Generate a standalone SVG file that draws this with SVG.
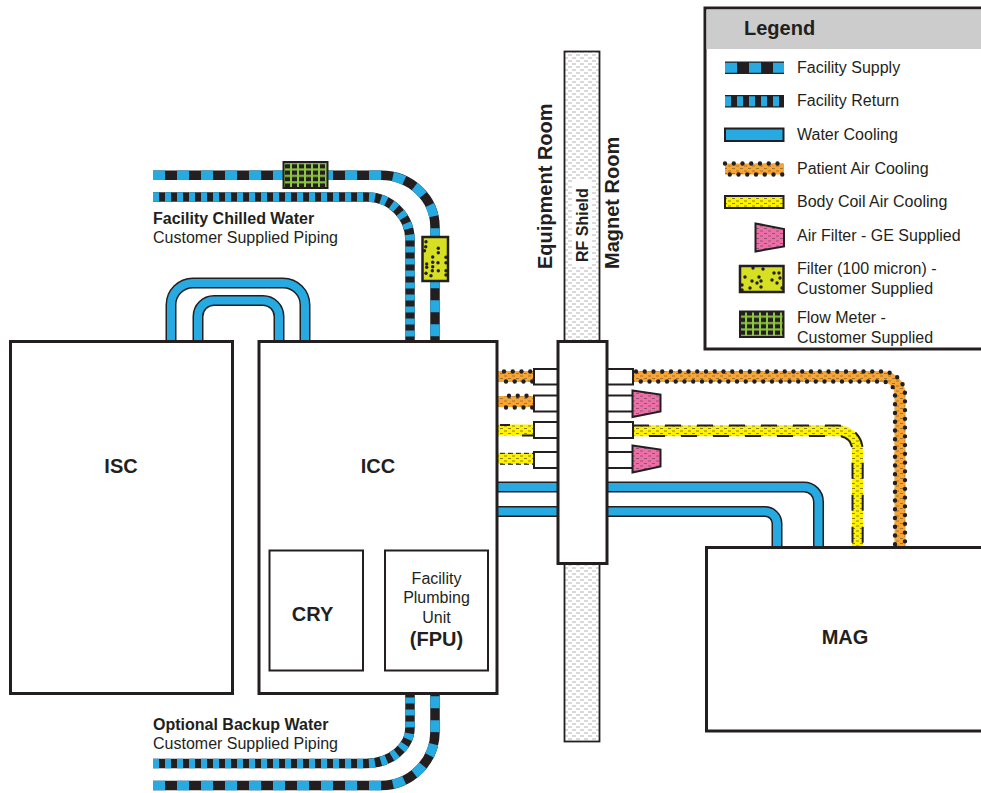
<svg xmlns="http://www.w3.org/2000/svg" width="981" height="793" viewBox="0 0 981 793">
<style>
text{font-family:"Liberation Sans",Arial,sans-serif;fill:#231f20;font-size:16px}
.b{font-weight:bold}
.big{font-weight:bold;font-size:20px;text-anchor:middle}
.mid{text-anchor:middle}
.box{fill:#fff;stroke:#231f20;stroke-width:3}
.thin{fill:#fff;stroke:#231f20;stroke-width:2}
.n{fill:none}
.base{fill:none;stroke:#231f20;stroke-width:9.5}
.sup{fill:none;stroke:#27aae1;stroke-width:9.5;stroke-dasharray:12 12}
.ret{fill:none;stroke:#27aae1;stroke-width:9.5;stroke-dasharray:6 6}
.wb{fill:none;stroke:#231f20;stroke-width:11}
.wf{fill:none;stroke:#27aae1;stroke-width:8}
.or{fill:none;stroke:url(#po);stroke-width:11}
.ye{fill:none;stroke:url(#py);stroke-width:11}
.dot{fill:none;stroke:#231f20;stroke-width:4.400;stroke-linecap:round;stroke-dasharray:0 8.75}
.dsh{fill:none;stroke:#231f20;stroke-width:2;stroke-dasharray:16 16}
.pink{fill:url(#pp);stroke:#231f20;stroke-width:2}
.filt{fill:#d7df23;stroke:#231f20;stroke-width:2.5}
.fm{fill:url(#pf);stroke:#231f20;stroke-width:2}
.sp circle{fill:#231f20}
</style>
<defs>
<pattern id="po" width="8" height="5" patternUnits="userSpaceOnUse"><rect width="8" height="5" fill="#f9a533"/><path d="M0 1H3M4 3.500H7" stroke="#8a6a35" stroke-width="0.800"/></pattern>
<pattern id="py" width="8" height="5" patternUnits="userSpaceOnUse"><rect width="8" height="5" fill="#fff200"/><path d="M0 1H3M4 3.500H7" stroke="#6a6620" stroke-width="0.800"/></pattern>
<pattern id="pp" width="8" height="5" patternUnits="userSpaceOnUse"><rect width="8" height="5" fill="#ee6fa8"/><path d="M0 1H3M4 3.500H7" stroke="#7a4a65" stroke-width="0.800"/></pattern>
<pattern id="ps" width="8" height="6" patternUnits="userSpaceOnUse"><rect width="8" height="6" fill="#fff"/><path d="M0 1H4M4 4H8" stroke="#a0a0a0" stroke-width="0.800"/></pattern>
<pattern id="pf" width="7" height="6.400" x="1" y="0" patternUnits="userSpaceOnUse"><rect width="7" height="6.400" fill="#231f20"/><path d="M3 0V6.400M0 3H7" stroke="#8dc63f" stroke-width="2"/></pattern>
</defs>

<g id="connectors">
<path class="base" d="M153 175.300H381A54 52 0 0 1 435 227V341"/>
<path class="sup" d="M153 175.300H381A54 52 0 0 1 435 227V341"/>
<path class="base" d="M153 197H367A43 43 0 0 1 410 240V341"/>
<path class="ret" d="M153 197H367A43 43 0 0 1 410 240V341"/>
<path class="base" d="M153 785.500H381A54 54 0 0 0 435 731.500V693"/>
<path class="sup" d="M153 785.500H381A54 54 0 0 0 435 731.500V693"/>
<path class="base" d="M153 763.500H366A44 36 0 0 0 410 727V693"/>
<path class="ret" d="M153 763.500H366A44 36 0 0 0 410 727V693"/>
<path class="wb" d="M171 341V305A22 22 0 0 1 193 283H283A22 22 0 0 1 305 305V341"/>
<path class="wf" d="M171 341V305A22 22 0 0 1 193 283H283A22 22 0 0 1 305 305V341"/>
<path class="wb" d="M198 341V316.500A16 16 0 0 1 214 300.500H263A16 16 0 0 1 279 316.500V341"/>
<path class="wf" d="M198 341V316.500A16 16 0 0 1 214 300.500H263A16 16 0 0 1 279 316.500V341"/>
<path class="wb" d="M363 604H385M363 621.500H385"/>
<path class="wf" d="M363 604H385M363 621.500H385"/>
<path class="wb" d="M497 487H804A14.500 14.500 0 0 1 818.500 501.500V547"/>
<path class="wf" d="M497 487H804A14.500 14.500 0 0 1 818.500 501.500V547"/>
<path class="wb" d="M497 511.500H765A12 12 0 0 1 777 523.500V547"/>
<path class="wf" d="M497 511.500H765A12 12 0 0 1 777 523.500V547"/>
<path class="or" d="M633 376.500H882A18 18 0 0 1 900 394.500V547"/>
<path class="dot" d="M636 371.500H882A23 23 0 0 1 905 394.500V547"/>
<path class="dot" stroke-dashoffset="4" d="M636 381.500H882A13 13 0 0 1 895 394.500V547"/>
<path class="ye" d="M633 430.700H838A19.500 19.500 0 0 1 857.500 450.200V547"/>
<path class="dsh" d="M633 425.500H838A24.700 24.700 0 0 1 862.700 450.200V547"/>
<path class="dsh" stroke-dashoffset="16" d="M633 436H838A14.500 14.500 0 0 1 852.500 450.200V547"/>
<path class="or" d="M497 376.500H533"/>
<path class="dot" d="M504 371.500H533"/>
<path class="dot" d="M506 381.500H533"/>
<path class="or" d="M497 401.500H533"/>
<path class="dot" d="M509 395.800H533"/>
<path class="dot" d="M506 407.500H533"/>
<path class="ye" d="M497 430H533"/>
<path class="dsh" d="M500 425H510"/>
<path class="dsh" d="M522 435.500H533"/>
<path class="ye" d="M497 458.500H533"/>
<path d="M500 453.300H533M500 464.300H533" stroke="#231f20" stroke-width="1" stroke-dasharray="5 3" fill="none"/>
</g>

<g id="rf-shield">
<rect x="564.500" y="51.500" width="35" height="690" fill="url(#ps)" stroke="#231f20" stroke-width="1.800"/>
<rect x="572" y="180" width="20" height="87" fill="#fff"/>
<text class="b" transform="translate(588 262) rotate(-90)">RF Shield</text>
</g>
<g id="room-labels">
<text class="b" transform="translate(552 269) rotate(-90)" style="font-size:20px">Equipment Room</text>
<text class="b" transform="translate(619 269) rotate(-90)" style="font-size:20px">Magnet Room</text>
</g>

<g id="penetration-panel">
<path class="thin" d="M558 369H534V384.500H558"/>
<path class="thin" d="M558 395.500H534V411.500H558"/>
<path class="thin" d="M558 422H534V438H558"/>
<path class="thin" d="M558 452H534V468H558"/>
<path class="thin" d="M607 369H633V384.500H607"/>
<path class="thin" d="M607 395.500H633V411.500H607"/>
<path class="thin" d="M607 422H633V438H607"/>
<path class="thin" d="M607 452H633V468H607"/>
<rect class="box" x="558" y="341.500" width="49" height="222"/>
</g>
<g id="air-filter-1"><path class="pink" d="M632.500 390.500L660.500 394.500V411.500L632.500 417Z"/></g>
<g id="air-filter-2"><path class="pink" d="M632.500 445.500L660.500 449.500V466.500L632.500 472.500Z"/></g>

<g id="flow-meter"><rect class="fm" x="283.500" y="162" width="44" height="26"/></g>
<g id="filter" class="sp"><rect class="filt" x="422.500" y="237" width="25.500" height="44"/>
<circle cx="426" cy="241.700" r="1.700"/><circle cx="425.700" cy="246.700" r="1.700"/><circle cx="424.500" cy="250.700" r="1.700"/><circle cx="438.300" cy="248.300" r="1.700"/><circle cx="438.300" cy="252.700" r="1.700"/><circle cx="432.700" cy="257" r="1.700"/><circle cx="438" cy="262.700" r="1.700"/><circle cx="426.700" cy="264" r="1.700"/><circle cx="426.700" cy="267.300" r="1.700"/><circle cx="432.700" cy="262.300" r="1.700"/><circle cx="432.700" cy="266.700" r="1.700"/><circle cx="438.300" cy="270.700" r="1.700"/><circle cx="432.300" cy="270.700" r="1.700"/><circle cx="431" cy="275.700" r="1.700"/><circle cx="426" cy="273.300" r="1.700"/><circle cx="446" cy="257.300" r="1.700"/><circle cx="446" cy="262.700" r="1.700"/><circle cx="446" cy="270.700" r="1.700"/><circle cx="446" cy="275" r="1.700"/>
</g>

<g id="ISC"><rect class="box" x="10.500" y="341.500" width="222" height="352"/><text class="big" x="121" y="473">ISC</text></g>
<g id="ICC"><rect class="box" x="259" y="341.500" width="238" height="352"/><text class="big" x="378" y="473">ICC</text></g>
<g id="CRY"><rect class="thin" x="269.500" y="550.500" width="93.500" height="120"/><text class="big" x="312.500" y="621">CRY</text></g>
<g id="FPU"><rect class="thin" x="385" y="550.500" width="103" height="120"/>
<text class="mid" x="436.500" y="584">Facility</text><text class="mid" x="436.500" y="603">Plumbing</text><text class="mid" x="436.500" y="623">Unit</text><text class="big" x="436.500" y="646">(FPU)</text></g>
<g id="MAG"><path class="box" d="M990 547.500H706.500V731H990"/><text class="big" x="845" y="644">MAG</text></g>

<g id="labels">
<text class="b" x="153" y="224">Facility Chilled Water</text>
<text x="153" y="243">Customer Supplied Piping</text>
<text class="b" x="153" y="730">Optional Backup Water</text>
<text x="153" y="749">Customer Supplied Piping</text>
</g>

<g id="legend">
<rect x="705" y="8" width="280" height="341" fill="#fff" stroke="#231f20" stroke-width="3"/>
<rect x="706.500" y="9.500" width="280" height="39.500" fill="#ccc"/>
<text class="b" x="744" y="35" style="font-size:20px">Legend</text>
<rect x="725" y="61.500" width="59" height="12.500" fill="#231f20"/>
<path d="M725 67.700H784" stroke="#27aae1" stroke-width="10" stroke-dasharray="12 12" fill="none"/>
<text x="797" y="73">Facility Supply</text>
<rect x="725" y="95" width="59" height="12.500" fill="#231f20"/>
<path d="M725 101.200H784" stroke="#27aae1" stroke-width="10" stroke-dasharray="6 6" fill="none"/>
<text x="797" y="106">Facility Return</text>
<rect x="725" y="128.500" width="58.500" height="12.500" fill="#27aae1" stroke="#231f20" stroke-width="2"/>
<text x="797" y="140">Water Cooling</text>
<rect x="725" y="163.500" width="59" height="11" fill="url(#po)"/>
<path class="dot" d="M725 163.500H784"/><path class="dot" stroke-dashoffset="4" d="M725 174.500H784"/>
<text x="797" y="174">Patient Air Cooling</text>
<rect x="725" y="196" width="58.500" height="12" fill="url(#py)" stroke="#231f20" stroke-width="2"/>
<text x="797" y="207">Body Coil Air Cooling</text>
<path class="pink" d="M755.500 223.500L784 229V246.500L755.500 251.500Z"/>
<text x="797" y="241">Air Filter - GE Supplied</text>
<g class="sp"><rect class="filt" x="740" y="266" width="43.500" height="26"/>
<circle cx="753" cy="268" r="1.700"/><circle cx="763" cy="269" r="1.700"/><circle cx="745" cy="277" r="1.700"/><circle cx="752" cy="281" r="1.700"/><circle cx="759" cy="277" r="1.700"/><circle cx="761" cy="281" r="1.700"/><circle cx="757" cy="283" r="1.700"/><circle cx="761" cy="287" r="1.700"/><circle cx="742" cy="285" r="1.700"/><circle cx="750" cy="288" r="1.700"/><circle cx="772" cy="280" r="1.700"/><circle cx="779" cy="273" r="1.700"/><circle cx="774" cy="273" r="1.700"/><circle cx="780" cy="278" r="1.700"/><circle cx="777" cy="283" r="1.700"/><circle cx="782" cy="288" r="1.700"/><circle cx="742" cy="290" r="1.700"/></g>
<text x="797" y="274">Filter (100 micron) -</text>
<text x="797" y="294">Customer Supplied</text>
<rect class="fm" x="740" y="311.500" width="43.500" height="25.500"/>
<text x="797" y="323">Flow Meter -</text>
<text x="797" y="343">Customer Supplied</text>
</g>
</svg>
